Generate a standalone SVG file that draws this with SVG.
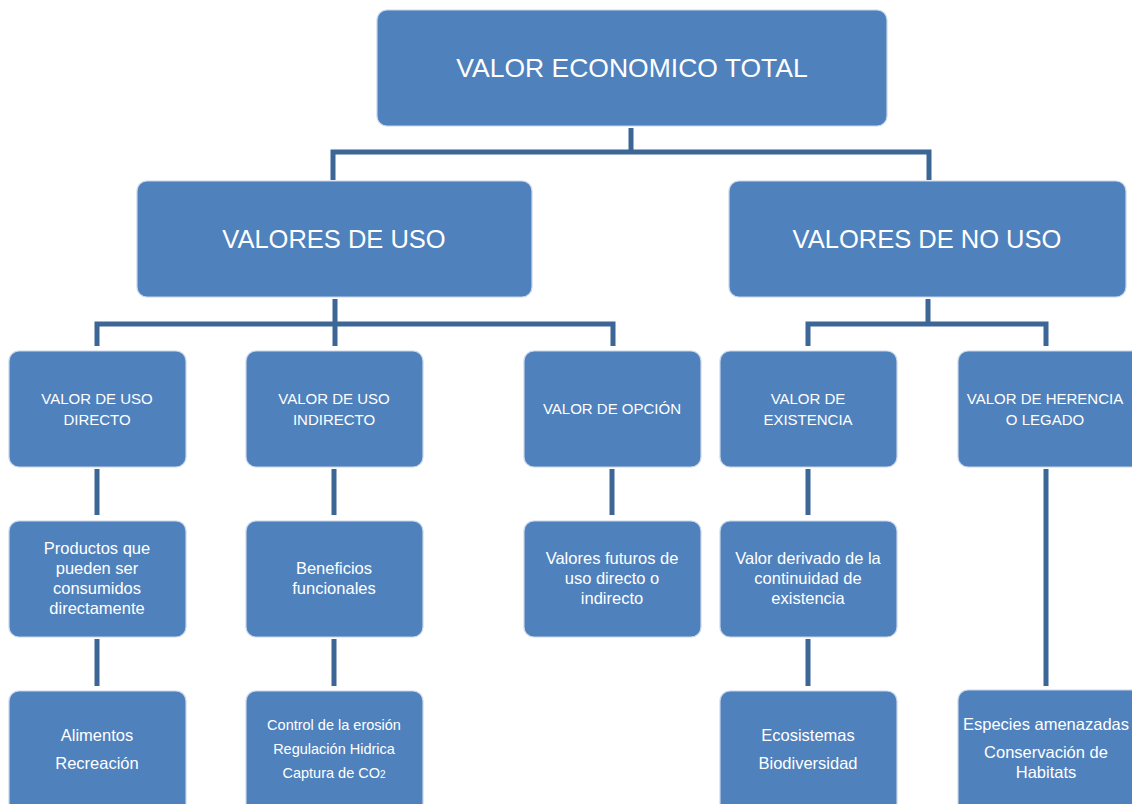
<svg xmlns="http://www.w3.org/2000/svg" width="1132" height="804" viewBox="0 0 1132 804">
<style>
.box{fill:#4F81BD;stroke:#C9D6EA;stroke-width:1.2}
.c{fill:none;stroke:#3C6696;stroke-width:5;stroke-linejoin:miter}
text{font-family:"Liberation Sans",Arial,sans-serif;fill:#FFFFFF;text-anchor:middle}
.t1{font-size:26.5px}
.t2{font-size:25.5px}
.t3{font-size:15px}
.t4{font-size:16.5px}
.t5{font-size:16.5px}
.t5s{font-size:14.5px}
</style>
<rect width="1132" height="804" fill="#FFFFFF"/>
<g id="connectors">
<path class="c" d="M631,128 V152 M333,180 V152 H929 V180"/>
<path class="c" d="M335,299 V346 M97,346 V324 H613 V346"/>
<path class="c" d="M928,299 V324 M808,346 V324 H1046 V346"/>
<path class="c" d="M97,469 V515 M334,469 V515 M612,469 V515 M808,469 V515 M1046,469 V686"/>
<path class="c" d="M97,639 V686 M334,639 V686 M808,639 V686"/>
</g>
<g id="n-total"><rect class="box" x="377" y="10" width="510" height="116" rx="10"/><text class="t1" x="632" y="77">VALOR ECONOMICO TOTAL</text></g>
<g id="n-uso"><rect class="box" x="137" y="181" width="395" height="116" rx="10"/><text class="t2" x="334" y="248">VALORES DE USO</text></g>
<g id="n-nouso"><rect class="box" x="729" y="181" width="397" height="116" rx="10"/><text class="t2" x="927" y="248">VALORES DE NO USO</text></g>
<g id="n-directo"><rect class="box" x="9" y="351" width="177" height="116" rx="10"/><text class="t3" x="97" y="404">VALOR DE USO</text><text class="t3" x="97" y="425">DIRECTO</text></g>
<g id="n-indirecto"><rect class="box" x="246" y="351" width="177" height="116" rx="10"/><text class="t3" x="334" y="404">VALOR DE USO</text><text class="t3" x="334" y="425">INDIRECTO</text></g>
<g id="n-opcion"><rect class="box" x="524" y="351" width="177" height="116" rx="10"/><text class="t3" x="612" y="414">VALOR DE OPCIÓN</text></g>
<g id="n-existencia"><rect class="box" x="720" y="351" width="177" height="116" rx="10"/><text class="t3" x="808" y="404">VALOR DE</text><text class="t3" x="808" y="425">EXISTENCIA</text></g>
<g id="n-herencia"><rect class="box" x="958" y="351" width="184" height="116" rx="10"/><text class="t3" x="1045" y="404">VALOR DE HERENCIA</text><text class="t3" x="1045" y="425">O LEGADO</text></g>
<g id="n-productos"><rect class="box" x="9" y="521" width="177" height="116" rx="10"/><text class="t4" x="97" y="554">Productos que</text><text class="t4" x="97" y="574">pueden ser</text><text class="t4" x="97" y="594">consumidos</text><text class="t4" x="97" y="614">directamente</text></g>
<g id="n-beneficios"><rect class="box" x="246" y="521" width="177" height="116" rx="10"/><text class="t4" x="334" y="574">Beneficios</text><text class="t4" x="334" y="594">funcionales</text></g>
<g id="n-futuros"><rect class="box" x="524" y="521" width="177" height="116" rx="10"/><text class="t4" x="612" y="564">Valores futuros de</text><text class="t4" x="612" y="584">uso directo o</text><text class="t4" x="612" y="604">indirecto</text></g>
<g id="n-derivado"><rect class="box" x="720" y="521" width="177" height="116" rx="10"/><text class="t4" x="808" y="564">Valor derivado de la</text><text class="t4" x="808" y="584">continuidad de</text><text class="t4" x="808" y="604">existencia</text></g>
<g id="n-alimentos"><rect class="box" x="9" y="691" width="177" height="130" rx="10"/><text class="t5" x="97" y="741">Alimentos</text><text class="t5" x="97" y="769">Recreación</text></g>
<g id="n-control"><rect class="box" x="246" y="691" width="177" height="130" rx="10"/><text class="t5s" x="334" y="730">Control de la erosión</text><text class="t5s" x="334" y="754">Regulación Hidrica</text><text class="t5s" x="334" y="778">Captura de CO<tspan font-size="10px">2</tspan></text></g>
<g id="n-ecosistemas"><rect class="box" x="720" y="691" width="177" height="130" rx="10"/><text class="t5" x="808" y="741">Ecosistemas</text><text class="t5" x="808" y="769">Biodiversidad</text></g>
<g id="n-especies"><rect class="box" x="958" y="690" width="184" height="130" rx="10"/><text class="t5" x="1046" y="730">Especies amenazadas</text><text class="t5" x="1046" y="758">Conservación de</text><text class="t5" x="1046" y="778">Habitats</text></g>
</svg>
